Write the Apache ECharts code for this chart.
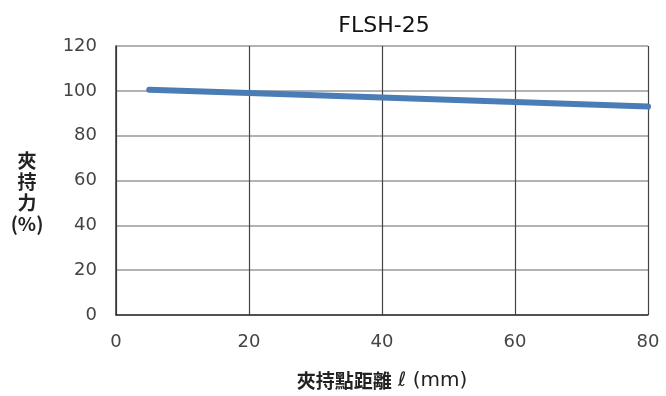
<!DOCTYPE html>
<html><head><meta charset="utf-8">
<script src="https://cdn.jsdelivr.net/npm/echarts@6/dist/echarts.min.js"></script>
<style>html,body{margin:0;padding:0;background:#fff}#c{width:666px;height:396px}</style>
</head><body><div id="c"></div>
<script>
const chartTitle = "FLSH-25";
const xNameCJK = "夾持點距離";
const xNameLatin = " ℓ (mm)";
const yName = "夾\n持\n力\n(%)";
const xValues = [5, 20, 40, 60, 80];
const yValues = [100.5, 99, 97, 95, 93];

const chart = echarts.init(document.getElementById('c'), null, {renderer: 'canvas'});
const tickFont = {fontFamily: 'DejaVu Sans, sans-serif', fontSize: 18, color: '#444'};
chart.setOption({
  animation: false,
  title: {text: chartTitle, left: 379, top: 10, textAlign: 'center',
    textStyle: {fontFamily: 'DejaVu Sans, sans-serif', fontSize: 22, fontWeight: 'normal', color: '#111'}},
  grid: {left: 116, right: 18, top: 46, bottom: 78},
  graphic: [{type: 'text', left: 10, top: 150,
    style: {text: yName, fill: '#222', font: 'bold 19px "Noto Sans CJK TC", sans-serif', lineHeight: 21, textAlign: 'center', width: 34}}],
  xAxis: {type: 'value', min: 0, max: 80, interval: 20,
    name: '{a|' + xNameCJK + '}{b|' + xNameLatin + '}', nameLocation: 'middle', nameGap: 56,
    nameTextStyle: {rich: {
      a: {fontFamily: 'Noto Sans CJK TC, sans-serif', fontSize: 19, fontWeight: 'bold', color: '#222'},
      b: {fontFamily: 'DejaVu Sans, sans-serif', fontSize: 20, color: '#222'}}},
    axisLine: {show: true, lineStyle: {color: '#333', width: 1.5}},
    axisTick: {show: false},
    axisLabel: Object.assign({margin: 18}, tickFont),
    splitLine: {show: true, lineStyle: {color: '#444', width: 1.2}}
  },
  yAxis: {type: 'value', min: 0, max: 120, interval: 20,
    axisLine: {show: true, lineStyle: {color: '#333', width: 1.5}},
    axisTick: {show: false},
    axisLabel: Object.assign({margin: 19}, tickFont),
    splitLine: {show: true, lineStyle: {color: '#999', width: 1.5}}
  },
  series: [{type: 'line', data: xValues.map((x, i) => [x, yValues[i]]),
    showSymbol: false, symbol: 'none',
    lineStyle: {color: '#4a7db5', width: 6, cap: 'round'}}]
});
</script></body></html>
